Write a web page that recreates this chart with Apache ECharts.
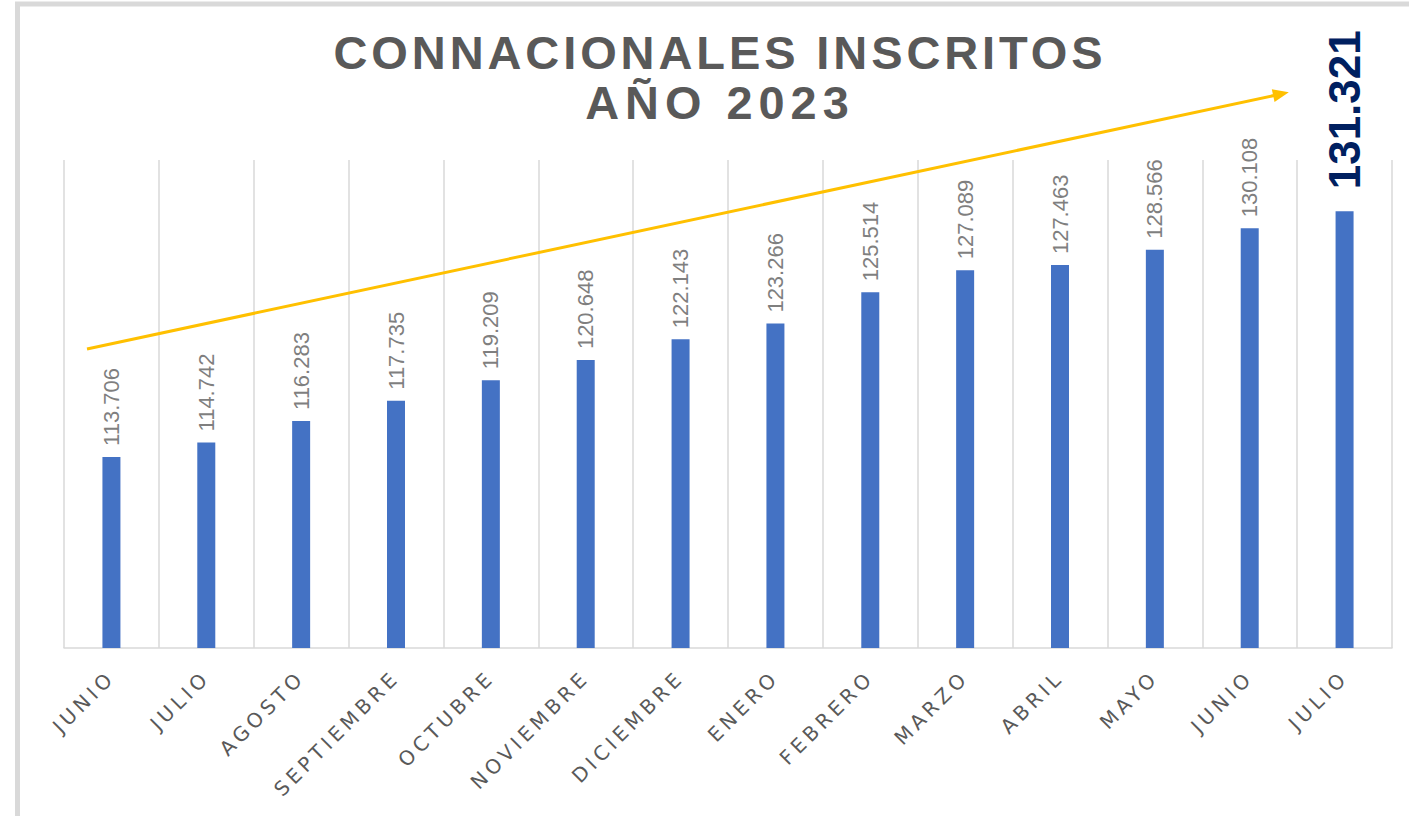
<!DOCTYPE html>
<html>
<head>
<meta charset="utf-8">
<script src="https://cdn.jsdelivr.net/npm/echarts@6/dist/echarts.min.js"></script>
<style>
html,body{margin:0;padding:0;background:#fff;}
#main{width:1409px;height:816px;}
#main text[style*="47px"]{letter-spacing:3.9px;}
#main text[style*="46.9px"]{letter-spacing:6px;}
#main text[style*="20px"]{letter-spacing:4.2px;}
</style>
</head>
<body>
<div id="main"></div>
<script>
const titleLines = ['CONNACIONALES INSCRITOS', 'AÑO 2023'];
const categories = ['JUNIO','JULIO','AGOSTO','SEPTIEMBRE','OCTUBRE','NOVIEMBRE','DICIEMBRE','ENERO','FEBRERO','MARZO','ABRIL','MAYO','JUNIO','JULIO'];
const values = [113706,114742,116283,117735,119209,120648,122143,123266,125514,127089,127463,128566,130108,131321];
const yMin = 100000;
const yMax = 135000;

function fmt(v){ return String(v).replace(/\B(?=(\d{3})+(?!\d))/g, '.'); }

const seriesData = values.map(function(v, i){
  if (i === values.length - 1) {
    return { value: v, label: { fontSize: 44, fontWeight: 'bold', color: '#002060', distance: 22 } };
  }
  return v;
});

const chart = echarts.init(document.getElementById('main'), null, { renderer: 'svg' });
chart.setOption({
  animation: false,
  backgroundColor: '#ffffff',
  grid: { left: 64, right: 17, top: 160, bottom: 168, containLabel: false },
  xAxis: {
    type: 'category',
    data: categories,
    boundaryGap: true,
    axisLine: { show: true, lineStyle: { color: '#d9d9d9', width: 1.5 } },
    axisTick: { show: false },
    splitLine: { show: true, lineStyle: { color: '#d9d9d9', width: 1.5 } },
    axisLabel: {
      interval: 0, rotate: 45, margin: 26,
      color: '#595959', fontSize: 20, fontFamily: 'DejaVu Sans'
    }
  },
  yAxis: {
    type: 'value', min: yMin, max: yMax, show: false,
    splitLine: { show: false }
  },
  series: [{
    type: 'bar',
    data: seriesData,
    barWidth: 18,
    itemStyle: { color: '#4472C4' },
    label: {
      show: true, position: 'top', rotate: 90, align: 'left', verticalAlign: 'middle',
      distance: 11, color: '#7f7f7f', fontSize: 22, fontFamily: 'Liberation Sans',
      formatter: function(p){ return fmt(p.value); }
    },
    markLine: {
      silent: true,
      symbol: ['none', 'triangle'],
      symbolSize: [13, 16],
      label: { show: false },
      lineStyle: { color: '#FFC000', width: 3, type: 'solid' },
      data: [[{ x: 87, y: 349 }, { x: 1281, y: 94 }]]
    }
  }],
  graphic: [
    { type: 'rect', shape: { x: 17.5, y: 4, width: 1420, height: 816 },
      style: { fill: 'none', stroke: '#d9d9d9', lineWidth: 5 }, silent: true },
    { type: 'text', x: 720, y: 52, silent: true,
      style: { text: titleLines[0], align: 'center', verticalAlign: 'middle',
               fontSize: 47, fontWeight: 'bold', fontFamily: 'Liberation Sans', fill: '#595959' } },
    { type: 'text', x: 720, y: 103, silent: true,
      style: { text: titleLines[1], align: 'center', verticalAlign: 'middle',
               fontSize: 46.9, fontWeight: 'bold', fontFamily: 'Liberation Sans', fill: '#595959' } }
  ]
});
</script>
</body>
</html>
